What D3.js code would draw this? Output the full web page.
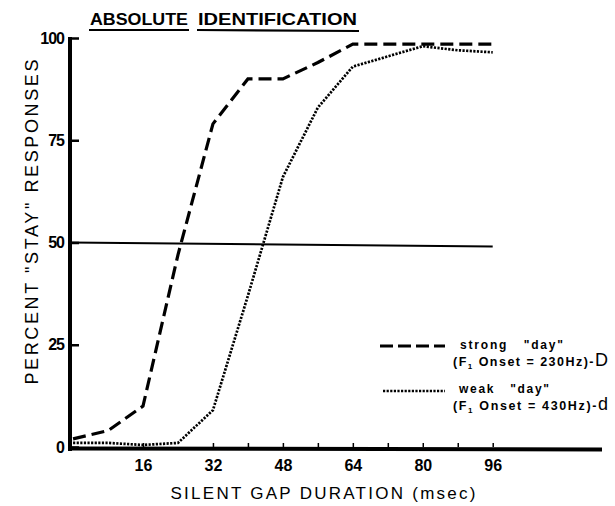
<!DOCTYPE html>
<html>
<head>
<meta charset="utf-8">
<script src="https://cdn.jsdelivr.net/npm/d3@7"></script>
<style>
  body { margin: 0; background: #fff; }
  svg { display: block; }
  text { fill: #000; }
</style>
</head>
<body>
<div id="chart"></div>
<script>
// gap durations (msec) and percent "stay" responses
var gaps = [0, 8, 16, 24, 32, 40, 48, 56, 64, 72, 80, 88, 96];
var strongDay = [2, 4, 10, 47, 79, 90, 90, 94, 98.5, 98.5, 98.5, 98.5, 98.5];
var weakDay = [1, 1, 0.5, 1, 9, 37, 66, 83, 93, 95.5, 98, 97, 96.5];
var chanceLevel = 50;
var xTickValues = [16, 32, 40, 48, 56, 64, 72, 80, 88, 96];
var xLabelValues = [16, 32, 48, 64, 80, 96];
var yTickValues = [0, 25, 50, 75, 100];

var svg = d3.select("#chart")
            .append("svg")
            .attr("width", 615)
            .attr("height", 506);

var x = d3.scaleLinear().domain([-0.7, 121]).range([70, 602]),
    y = d3.scaleLinear().domain([0, 100]).range([447, 38]);

var font = "Liberation Sans, Arial, sans-serif";

// title, each word underlined on its own
var title = svg.append("g").attr("font-family", font)
  .attr("font-weight", "bold").attr("font-size", 16.5);
title.append("text").attr("x", 90).attr("y", 25)
  .attr("textLength", 98).attr("lengthAdjust", "spacingAndGlyphs").text("ABSOLUTE");
title.append("text").attr("x", 198).attr("y", 25)
  .attr("textLength", 159).attr("lengthAdjust", "spacingAndGlyphs").text("IDENTIFICATION");
title.append("line").attr("x1", 89).attr("x2", 189).attr("y1", 30).attr("y2", 30)
  .attr("stroke", "#000").attr("stroke-width", 2.2);
title.append("line").attr("x1", 197).attr("x2", 359).attr("y1", 30).attr("y2", 31)
  .attr("stroke", "#000").attr("stroke-width", 2.2);

// x axis
var xAxis = d3.axisBottom(x)
  .tickValues(xTickValues)
  .tickSize(-4)
  .tickPadding(14)
  .tickFormat(function(d) { return xLabelValues.indexOf(d) >= 0 ? d : ""; });
var gx = svg.append("g").attr("transform", "translate(0," + y(0) + ")").call(xAxis);
gx.select(".domain").remove();
gx.selectAll(".tick line").attr("stroke-width", 1.5);
gx.selectAll(".tick text").attr("font-family", font)
  .attr("font-weight", "bold").attr("font-size", 16).attr("dy", "0.6em");
svg.append("line")
  .attr("x1", x.range()[0] - 2).attr("x2", x.range()[1])
  .attr("y1", y(0) + 1.5).attr("y2", y(0) + 2.5)
  .attr("stroke", "#000").attr("stroke-width", 4);

// y axis
var yAxis = d3.axisLeft(y)
  .tickValues(yTickValues)
  .tickSize(-9)
  .tickPadding(6);
var gy = svg.append("g").attr("transform", "translate(" + x.range()[0] + ",0)").call(yAxis);
gy.select(".domain").remove();
gy.selectAll(".tick line").attr("stroke-width", 2.5);
gy.selectAll(".tick text").attr("font-family", font)
  .attr("font-weight", "bold").attr("font-size", 16).attr("letter-spacing", -1);
svg.append("line")
  .attr("x1", x.range()[0]).attr("x2", x.range()[0])
  .attr("y1", y(100) - 1).attr("y2", y(0) + 4)
  .attr("stroke", "#000").attr("stroke-width", 4);

// axis titles
svg.append("text")
  .attr("transform", "translate(38," + 222 + ") rotate(-90)")
  .attr("text-anchor", "middle")
  .attr("font-family", font)
  .attr("font-size", 18)
  .attr("textLength", 325).attr("lengthAdjust", "spacing")
  .text("PERCENT \"STAY\" RESPONSES");
svg.append("text")
  .attr("x", 323).attr("y", 499)
  .attr("text-anchor", "middle")
  .attr("font-family", font)
  .attr("font-size", 17)
  .attr("textLength", 305).attr("lengthAdjust", "spacing")
  .text("SILENT GAP DURATION (msec)");

// 50% line
svg.append("line")
  .attr("x1", x.range()[0]).attr("x2", x(96))
  .attr("y1", y(chanceLevel)).attr("y2", y(chanceLevel) + 4)
  .attr("stroke", "#000").attr("stroke-width", 1.8);

var line = d3.line()
  .x(function(d) { return x(d[0]); })
  .y(function(d) { return y(d[1]); });

svg.append("path")
  .datum(d3.zip(gaps, weakDay))
  .attr("d", line)
  .attr("fill", "none")
  .attr("stroke", "#000")
  .attr("stroke-width", 2.7)
  .attr("stroke-dasharray", "2.2,1.4");

svg.append("path")
  .datum(d3.zip(gaps, strongDay))
  .attr("d", line)
  .attr("fill", "none")
  .attr("stroke", "#000")
  .attr("stroke-width", 3.2)
  .attr("stroke-dasharray", "13,6");

// legend
var legend = svg.append("g").attr("font-family", font)
  .attr("font-weight", "bold");
legend.append("line").attr("x1", 380).attr("x2", 445).attr("y1", 346).attr("y2", 346)
  .attr("stroke", "#000").attr("stroke-width", 3.2).attr("stroke-dasharray", "13,5");
legend.append("line").attr("x1", 383).attr("x2", 445).attr("y1", 391).attr("y2", 391)
  .attr("stroke", "#000").attr("stroke-width", 2.7).attr("stroke-dasharray", "2.2,1.4");

legend.append("text").attr("x", 460).attr("y", 349).attr("font-size", 12)
  .attr("xml:space", "preserve").attr("textLength", 103).attr("lengthAdjust", "spacing")
  .text("strong   \"day\"");
var t1 = legend.append("text").attr("x", 453).attr("y", 366).attr("font-size", 12.5)
  .attr("textLength", 155).attr("lengthAdjust", "spacing");
t1.append("tspan").text("(F");
t1.append("tspan").attr("font-size", 8).attr("dy", 3).text("1");
t1.append("tspan").attr("dy", -3).text(" Onset = 230Hz)-");
t1.append("tspan").attr("font-size", 18).attr("font-weight", "normal").text("D");

legend.append("text").attr("x", 459).attr("y", 393).attr("font-size", 12)
  .attr("xml:space", "preserve").attr("textLength", 90).attr("lengthAdjust", "spacing")
  .text("weak   \"day\"");
var t2 = legend.append("text").attr("x", 453).attr("y", 410).attr("font-size", 12.5)
  .attr("textLength", 155).attr("lengthAdjust", "spacing");
t2.append("tspan").text("(F");
t2.append("tspan").attr("font-size", 8).attr("dy", 3).text("1");
t2.append("tspan").attr("dy", -3).text(" Onset = 430Hz)-");
t2.append("tspan").attr("font-size", 18).attr("font-weight", "normal").text("d");
</script>
</body>
</html>
